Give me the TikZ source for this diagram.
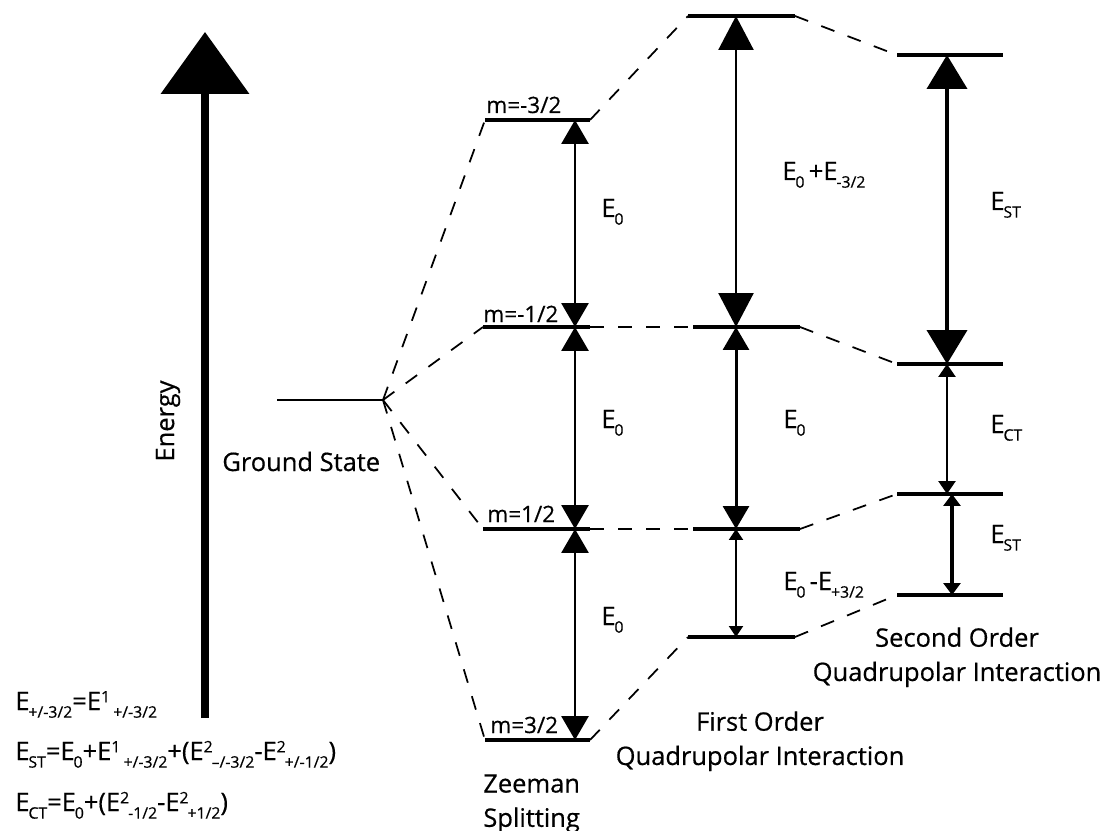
\documentclass[tikz,border=0pt]{standalone}
\usepackage{fontspec}
\setmainfont{Open Sans}[FakeBold=0.5]
\usetikzlibrary{arrows.meta}
\newcommand\dn[1]{\kern-0.6pt\raisebox{-0.3em}{\fontsize{9}{9}\selectfont #1}}
\newcommand\up[1]{\raisebox{0.3em}{\fontsize{9}{9}\selectfont #1}}
\begin{document}
\begin{tikzpicture}[x=0.02cm, y=-0.02cm,
    level/.style={line width=1.9pt},
    link/.style={line width=1pt, dash pattern=on 8pt off 8pt},
    transition/.style n args={3}{line width=#1, {Triangle[length=#2,width=#3]}-{Triangle[length=#2,width=#3]}},
    lbl/.style={anchor=base west, inner sep=0pt, font=\fontsize{14.5}{17}\selectfont},
    mlbl/.style={anchor=base west, inner sep=0pt, font=\fontsize{12.8}{15}\selectfont},
    caption/.style={inner sep=0pt, font=\fontsize{14.5}{19.5}\selectfont}
]
    \useasboundingbox (0,0) rectangle (1106,831);

    % Energy axis
    \coordinate (ebot) at (205,718);
    \coordinate (etop) at (205,32);
    \draw[line width=4.5pt, -{Triangle[length=1.24cm,width=1.74cm]}] (ebot) -- (etop);
    \node[rotate=90, inner sep=0pt, font=\fontsize{14.5}{17}\selectfont] (energy) at (168,421) {Energy};

    % Ground state
    \coordinate (g0) at (277,400);
    \coordinate (g1) at (383,400);
    \draw[line width=1.2pt] (g0) -- (g1);
    \node[lbl] (gslbl) at (222,471) {Ground State};

    % Zeeman levels
    \coordinate (z1l) at (485,120); \coordinate (z1r) at (590,120);
    \coordinate (z2l) at (483,327); \coordinate (z2r) at (590,327);
    \coordinate (z3l) at (483,529); \coordinate (z3r) at (590,529);
    \coordinate (z4l) at (485,740); \coordinate (z4r) at (590,740);
    \draw[level] (z1l) -- (z1r);
    \draw[level] (z2l) -- (z2r);
    \draw[level] (z3l) -- (z3r);
    \draw[level] (z4l) -- (z4r);
    \node[mlbl] (m1) at (486,113) {m=-3/2};
    \node[mlbl] (m2) at (483,322) {m=-1/2};
    \node[mlbl] (m3) at (487,522) {m=1/2};
    \node[mlbl] (m4) at (490,733) {m=3/2};

    % First order levels
    \coordinate (f1l) at (688,16);  \coordinate (f1r) at (795,16);
    \coordinate (f2l) at (693,327); \coordinate (f2r) at (800,327);
    \coordinate (f3l) at (693,529); \coordinate (f3r) at (800,529);
    \coordinate (f4l) at (688,637); \coordinate (f4r) at (795,637);
    \draw[level] (f1l) -- (f1r);
    \draw[level] (f2l) -- (f2r);
    \draw[level] (f3l) -- (f3r);
    \draw[level] (f4l) -- (f4r);

    % Second order levels
    \coordinate (s1l) at (897,55);  \coordinate (s1r) at (1003,55);
    \coordinate (s2l) at (897,364); \coordinate (s2r) at (1003,364);
    \coordinate (s3l) at (897,494); \coordinate (s3r) at (1003,494);
    \coordinate (s4l) at (897,595); \coordinate (s4r) at (1003,595);
    \draw[level] (s1l) -- (s1r);
    \draw[level] (s2l) -- (s2r);
    \draw[level] (s3l) -- (s3r);
    \draw[level] (s4l) -- (s4r);

    % Dashed correlation lines
    \draw[link] (g1) -- (z1l);
    \draw[link] (g1) -- (z2l);
    \draw[link] (g1) -- (z3l);
    \draw[link] (g1) -- (z4l);
    \draw[link] (z1r) -- (f1l);
    \draw[link] (z2r) -- (f2l);
    \draw[link] (z3r) -- (f3l);
    \draw[link] (z4r) -- (f4l);
    \draw[link] (f1r) -- (s1l);
    \draw[link] (f2r) -- (s2l);
    \draw[link] (f3r) -- (s3l);
    \draw[link] (f4r) -- (s4l);

    % Transitions
    \coordinate (za) at (575,0);
    \coordinate (fa) at (736,0);
    \coordinate (sa) at (947,0);
    \coordinate (sb) at (952,0);
    \draw[transition={1.7pt}{0.48cm}{0.54cm}] (za |- z1l) -- (za |- z2l);
    \draw[transition={1.7pt}{0.48cm}{0.54cm}] (za |- z2l) -- (za |- z3l);
    \draw[transition={1.7pt}{0.48cm}{0.54cm}] (za |- z3l) -- (za |- z4l);
    \draw[transition={1.4pt}{0.68cm}{0.7cm}] (fa |- f1l) -- (fa |- f2l);
    \draw[transition={1.7pt}{0.46cm}{0.52cm}] (fa |- f2l) -- (fa |- f3l);
    \draw[transition={1.2pt}{0.22cm}{0.28cm}] (fa |- f3l) -- (fa |- f4l);
    \draw[transition={2.3pt}{0.68cm}{0.8cm}] (sa |- s1l) -- (sa |- s2l);
    \draw[transition={1.5pt}{0.26cm}{0.34cm}] (sa |- s2l) -- (sa |- s3l);
    \draw[transition={2.3pt}{0.24cm}{0.34cm}] (sb |- s3l) -- (sb |- s4l);

    % Transition labels
    \node[lbl] (ez1) at (601,217) {E\dn{0}};
    \node[lbl] (ez2) at (601,428) {E\dn{0}};
    \node[lbl] (ez3) at (601,625) {E\dn{0}};
    \node[lbl] (ef1) at (782,180) {E\dn{0}\,+E\dn{-3/2}};
    \node[lbl] (ef2) at (783,428) {E\dn{0}};
    \node[lbl] (ef3) at (783,590) {E\dn{0}\,-E\dn{+3/2}};
    \node[lbl] (es1) at (990,210) {E\dn{ST}};
    \node[lbl] (es2) at (990,433) {E\dn{CT}};
    \node[lbl] (es3) at (990,543) {E\dn{ST}};

    % Captions
    \node[caption, anchor=north west, align=left] (zeeman) at (483,774) {Zeeman\\Splitting};
    \node[caption, anchor=north, align=center] (first) at (760,711) {First Order\\Quadrupolar Interaction};
    \node[caption, anchor=north, align=center] (second) at (957,627) {Second Order\\Quadrupolar Interaction};

    % Definitions
    \node[lbl] (def1) at (15,710) {E\dn{+/-3/2}=E\up{1}\,\dn{+/-3/2}};
    \node[lbl] (def2) at (15,760) {E\dn{ST}=E\dn{0}+E\up{1}\,\dn{+/-3/2}+(E\up{2}\dn{--/-3/2}-E\up{2}\dn{+/-1/2})};
    \node[lbl] (def3) at (15,811) {E\dn{CT}=E\dn{0}+(E\up{2}\dn{-1/2}-E\up{2}\dn{+1/2})};
\end{tikzpicture}
\end{document}
